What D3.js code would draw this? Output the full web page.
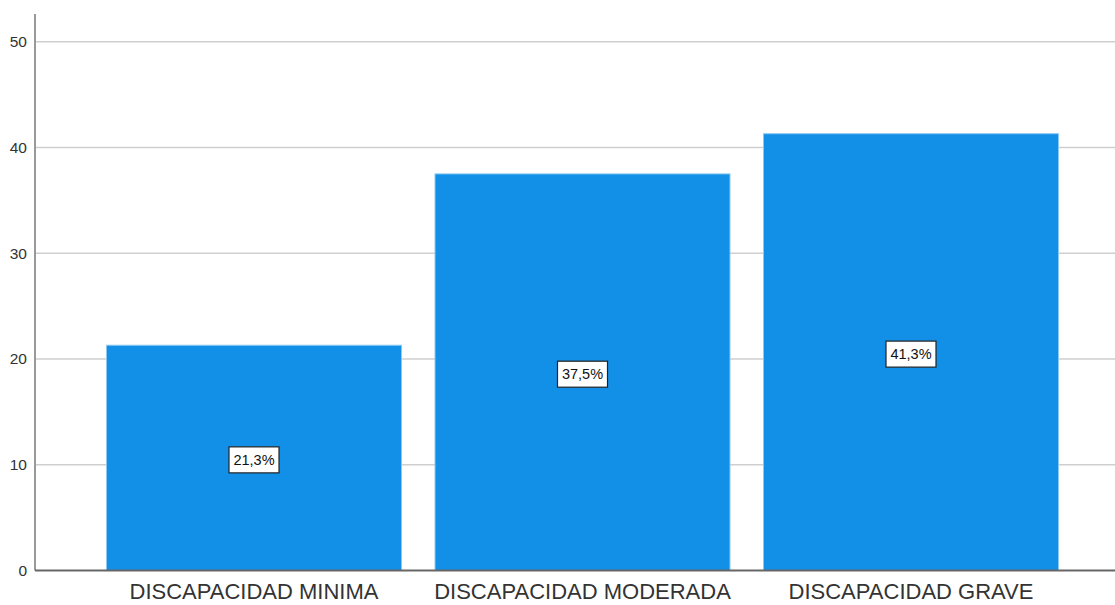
<!DOCTYPE html>
<html>
<head>
<meta charset="utf-8">
<script src="https://cdn.jsdelivr.net/npm/d3@7"></script>
<style>
  body { margin: 0; background: #fff; }
  svg { display: block; font-family: "Liberation Sans", Arial, sans-serif; }
</style>
</head>
<body>
<svg id="chart" width="1115" height="605"></svg>
<script>
// data
var categories = ["DISCAPACIDAD MINIMA", "DISCAPACIDAD MODERADA", "DISCAPACIDAD GRAVE"];
var values = [21.3, 37.5, 41.3];
var labels = ["21,3%", "37,5%", "41,3%"];
var yTicks = [0, 10, 20, 30, 40, 50];

var width = 1115, height = 605,
    axisX = 35, plotRight = 1115,
    plotTop = 14, plotBottom = 570.5;

var svg = d3.select('#chart');

var y = d3.scaleLinear()
    .domain([0, 50])
    .range([plotBottom, 41.7]);

var x = d3.scaleBand()
    .domain(categories)
    .range([50, 1115])
    .paddingInner(0.102)
    .paddingOuter(0.172);

// grid lines
svg.append('g')
  .selectAll('line')
  .data(yTicks.slice(1))
  .enter().append('line')
    .attr('x1', axisX)
    .attr('x2', plotRight)
    .attr('y1', function(d) { return y(d); })
    .attr('y2', function(d) { return y(d); })
    .attr('stroke', '#cfcfcf')
    .attr('stroke-width', 1.5);

// bars
svg.append('g')
  .selectAll('rect')
  .data(values)
  .enter().append('rect')
    .attr('x', function(d, i) { return x(categories[i]); })
    .attr('y', function(d) { return y(d); })
    .attr('width', x.bandwidth())
    .attr('height', function(d) { return y(0) - y(d); })
    .attr('fill', '#1290e8')
    .attr('stroke', '#8cc8f2')
    .attr('stroke-width', 1);

// y axis
var yAxis = svg.append('g')
    .attr('transform', 'translate(' + axisX + ',0)')
    .call(d3.axisLeft(y).tickValues(yTicks).tickSize(0).tickPadding(8));
yAxis.select('.domain').remove();
yAxis.selectAll('text')
    .attr('font-size', 15.5)
    .attr('font-family', '"Liberation Sans", Arial, sans-serif')
    .attr('fill', '#333');

svg.append('line')
    .attr('x1', axisX).attr('x2', axisX)
    .attr('y1', plotTop).attr('y2', plotBottom)
    .attr('stroke', '#999')
    .attr('stroke-width', 2);

// x axis baseline + labels
svg.append('line')
    .attr('x1', axisX).attr('x2', plotRight)
    .attr('y1', plotBottom).attr('y2', plotBottom)
    .attr('stroke', '#666')
    .attr('stroke-width', 2);

var xAxis = svg.append('g')
    .attr('transform', 'translate(0,' + plotBottom + ')')
    .call(d3.axisBottom(x).tickSize(0).tickPadding(13));
xAxis.select('.domain').remove();
xAxis.selectAll('text')
    .attr('font-size', 22)
    .attr('font-family', '"Liberation Sans", Arial, sans-serif')
    .attr('fill', '#333');

// value labels in boxes
var lab = svg.append('g')
  .selectAll('g')
  .data(values)
  .enter().append('g')
    .attr('transform', function(d, i) {
      return 'translate(' + (x(categories[i]) + x.bandwidth() / 2) + ',' + (y(d / 2) + 2) + ')';
    });

lab.append('rect')
    .attr('x', -25).attr('y', -13)
    .attr('width', 50).attr('height', 26)
    .attr('fill', '#fff')
    .attr('stroke', '#222')
    .attr('stroke-width', 1.2);

lab.append('text')
    .attr('text-anchor', 'middle')
    .attr('dy', '0.36em')
    .attr('font-size', 14.5)
    .attr('fill', '#111')
    .text(function(d, i) { return labels[i]; });
</script>
</body>
</html>
